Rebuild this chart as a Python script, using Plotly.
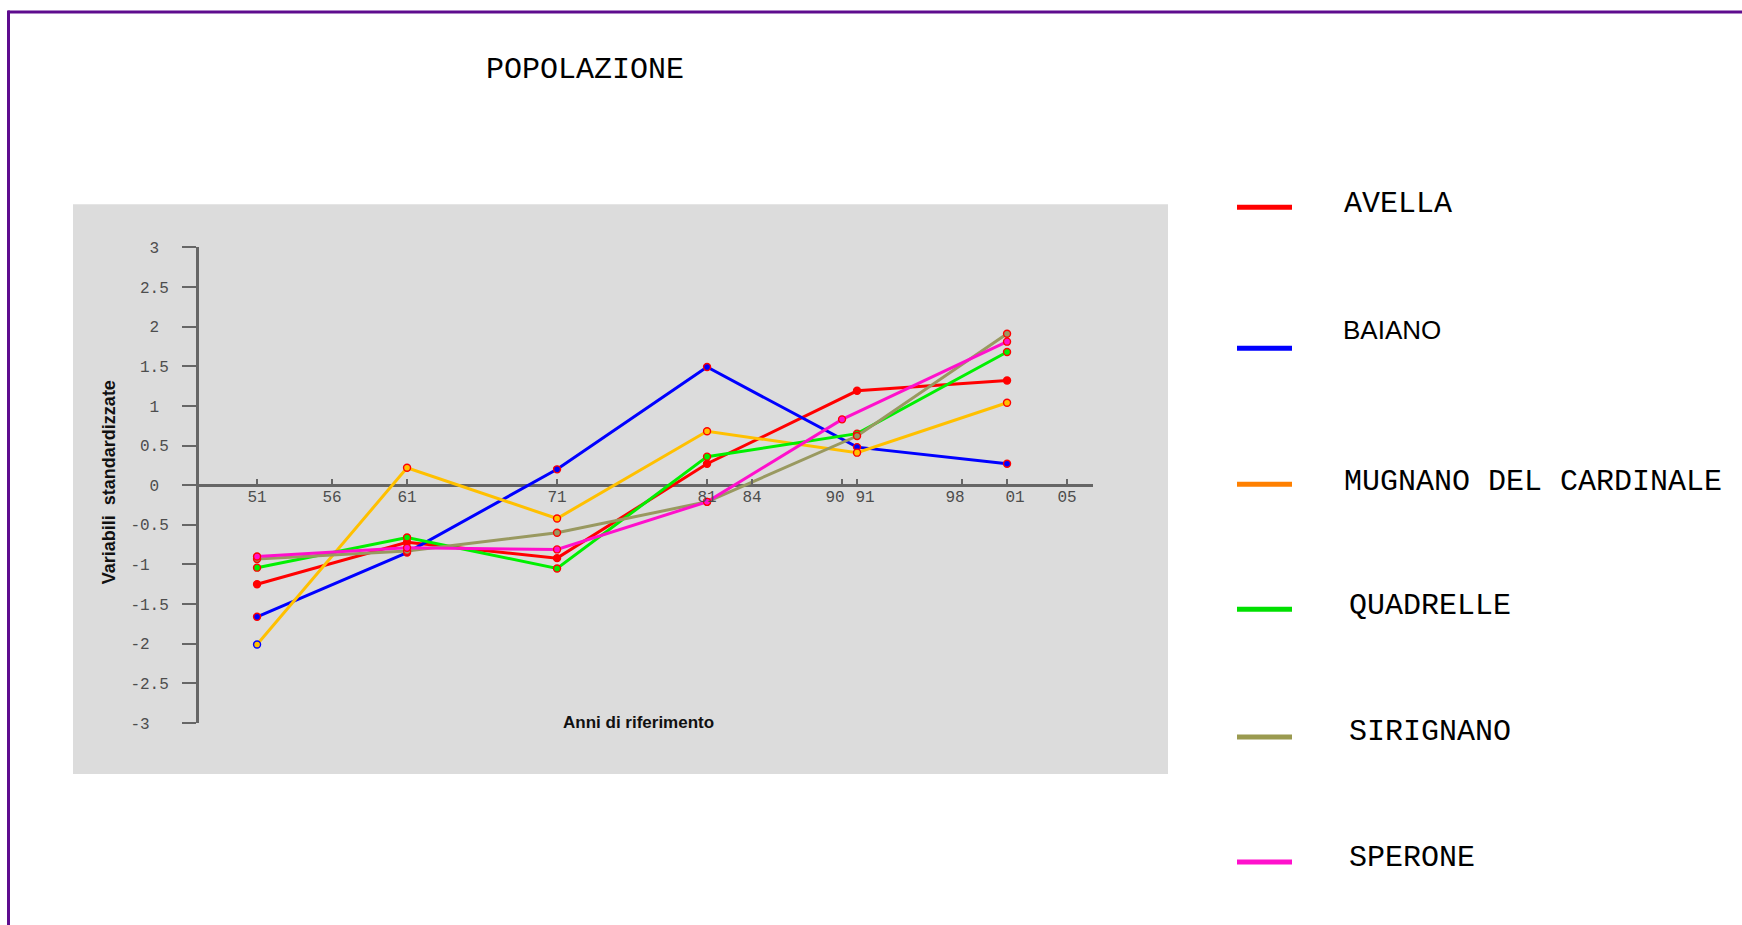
import plotly.graph_objects as go

# ---- data: standardised population values by census year ----
YEARS = [1951, 1961, 1971, 1981, 1991, 2001]
YEARS_SPERONE = [1951, 1961, 1971, 1981, 1990, 2001]

AVELLA = [-1.25, -0.72, -0.92, 0.27, 1.19, 1.32]
BAIANO = [-1.66, -0.85, 0.20, 1.49, 0.48, 0.27]
MUGNANO = [-2.01, 0.22, -0.42, 0.68, 0.41, 1.04]
QUADRELLE = [-1.04, -0.66, -1.05, 0.36, 0.65, 1.68]
SIRIGNANO = [-0.93, -0.83, -0.60, -0.21, 0.62, 1.91]
SPERONE = [-0.90, -0.79, -0.81, -0.21, 0.83, 1.81]

SERIES_NAMES = ["AVELLA", "BAIANO", "MUGNANO DEL CARDINALE",
                "QUADRELLE", "SIRIGNANO", "SPERONE"]

# x ticks: labels sitting on the tick, nudged left, nudged right
X_TICK_VALS = [1951, 1956, 1961, 1971, 1981, 1984, 1990, 1991, 1998, 2001, 2005]
X_TICK_TEXT = ["51", "56", "61", "71", "81", "84", "", "", "", "", "05"]
X_LEFT_VALS = [1990, 1998]
X_LEFT_TEXT = ["90", "98"]
X_RIGHT_VALS = [1991, 2001]
X_RIGHT_TEXT = ["91", "01"]
Y_TICK_VALS = [3, 2.5, 2, 1.5, 1, 0.5, 0, -0.5, -1, -1.5, -2, -2.5, -3]
Y_TICK_TEXT = ["3", "2.5", "2", "1.5", "1", "0.5", "0", "-0.5", "-1", "-1.5",
               "-2", "-2.5", "-3"]

# ---- styling ----
W, H = 1742, 925
LINE_COLORS = ["#FF0000", "#0000FF", "#FFC000", "#00F000", "#999960", "#FF10CC"]
KEY_COLORS = ["#FF0000", "#0000FF", "#FF8000", "#00E000", "#9A9A50", "#FF10CC"]
# the last two series sit on overlay x axes (same scale) that carry shifted labels
SERIES_XAXIS = ["x", "x", "x", "x", "x2", "x3"]
MONO = "Liberation Mono"
SANS = "Liberation Sans"
TICK_FONT = dict(family=MONO, size=16, color="#4D4D4D")
NB = "\u00a0"

# vertical placement: paper area starts TOP_OFF px down and is AREA_H px tall
TOP_OFF = 6.6
AREA_H = 907.4


def px(x):
    return x / W


def py(y):
    return 1 - (y - TOP_OFF) / AREA_H


def y_label(text):
    # whole numbers get trailing padding so labels line up on their left side
    if "." in text:
        return text
    return text + NB * (2 if text.startswith("-") else 1)


series = [
    (YEARS, AVELLA),
    (YEARS, BAIANO),
    (YEARS, MUGNANO),
    (YEARS, QUADRELLE),
    (YEARS, SIRIGNANO),
    (YEARS_SPERONE, SPERONE),
]

fig = go.Figure()
for (xs, ys), name, color, xa in zip(series, SERIES_NAMES, LINE_COLORS,
                                     SERIES_XAXIS):
    ring = ["#FF0000"] * len(xs)
    if name == "MUGNANO DEL CARDINALE":
        ring[0] = "#0000FF"
    fig.add_trace(go.Scatter(
        x=xs, y=ys, name=name, mode="lines+markers", xaxis=xa, yaxis="y",
        line=dict(color=color, width=3),
        marker=dict(symbol="circle", size=7, color=color,
                    line=dict(color=ring, width=1.4)),
        showlegend=False,
    ))

y_dom = [py(723), py(247)]
x_dom = [px(199), px(1093)]
x_range = [1947.13, 2006.73]
x_pos = (y_dom[0] + y_dom[1]) / 2

shapes = [
    # grey panel behind the plot
    dict(type="rect", xref="paper", yref="paper", layer="below",
         x0=px(73), x1=px(1168), y0=py(774), y1=py(204),
         fillcolor="#DCDCDC", line=dict(width=0)),
    # purple frame (top and left edges)
    dict(type="line", xref="paper", yref="paper",
         x0=px(8), x1=1, y0=py(11.5), y1=py(11.5),
         line=dict(color="#5E0C8E", width=3)),
    dict(type="line", xref="paper", yref="paper",
         x0=px(8.5), x1=px(8.5), y0=py(930), y1=py(10),
         line=dict(color="#5E0C8E", width=3)),
]

# hand-placed legend keys
KEY_LINE_Y = [207, 348, 484, 609, 737, 862]
KEY_TEXT_Y = [204, 330, 482, 606, 732, 858]
KEY_TEXT_X = [1342, 1341, 1342, 1347, 1347, 1347]
annotations = []
for i, name in enumerate(SERIES_NAMES):
    shapes.append(dict(type="line", xref="paper", yref="paper",
                       x0=px(1237), x1=px(1292),
                       y0=py(KEY_LINE_Y[i]), y1=py(KEY_LINE_Y[i]),
                       line=dict(color=KEY_COLORS[i], width=5)))
    if name == "BAIANO":
        font = dict(family=SANS, size=26, color="#000000")
    else:
        font = dict(family=MONO, size=30, color="#000000")
    annotations.append(dict(text=name, xref="paper", yref="paper",
                            x=px(KEY_TEXT_X[i]), y=py(KEY_TEXT_Y[i]),
                            xanchor="left", yanchor="middle",
                            showarrow=False, font=font))

annotations += [
    dict(text="POPOLAZIONE", xref="paper", yref="paper",
         x=px(585), y=py(70), xanchor="center", yanchor="middle",
         showarrow=False, font=dict(family=MONO, size=30, color="#000000")),
    dict(text="<b>Anni di riferimento</b>", xref="paper", yref="paper",
         x=px(638), y=py(722), xanchor="center", yanchor="middle",
         showarrow=False, font=dict(family=SANS, size=17, color="#111111")),
    dict(text="<b>Variabili  standardizzate</b>", xref="paper", yref="paper",
         x=px(109), y=py(482), xanchor="center", yanchor="middle",
         textangle=-90, showarrow=False,
         font=dict(family=SANS, size=18, color="#111111")),
]

axis_gray = "#666666"


def label_axis(vals, text, shift):
    # overlay axis with the same scale, carrying a few shifted tick labels
    return dict(
        domain=x_dom, range=x_range, overlaying="x",
        anchor="free", position=x_pos,
        showline=False, ticks="", showgrid=False, zeroline=False,
        tickvals=vals, ticktext=text, tickangle=0,
        ticklabelshift=shift, tickfont=TICK_FONT,
    )


fig.update_layout(
    width=W, height=H, autosize=False,
    margin=dict(l=0, r=0, t=0, b=0),
    paper_bgcolor="#FFFFFF", plot_bgcolor="rgba(0,0,0,0)",
    shapes=shapes, annotations=annotations,
    xaxis=dict(
        domain=x_dom, range=x_range,
        anchor="free", position=x_pos,
        showline=False,
        ticks="inside", ticklen=6, tickwidth=1.5, tickcolor=axis_gray,
        tickvals=X_TICK_VALS, ticktext=X_TICK_TEXT, tickangle=0,
        tickfont=TICK_FONT,
        showgrid=False, zeroline=False,
    ),
    xaxis2=label_axis(X_LEFT_VALS, X_LEFT_TEXT, -7),
    xaxis3=label_axis(X_RIGHT_VALS, X_RIGHT_TEXT, 8),
    yaxis=dict(
        domain=y_dom, range=[-3, 3], anchor="x",
        showline=True, linecolor=axis_gray, linewidth=3,
        ticks="outside", ticklen=14, tickwidth=1.5, tickcolor=axis_gray,
        tickvals=Y_TICK_VALS, ticktext=[y_label(t) for t in Y_TICK_TEXT],
        tickfont=TICK_FONT,
        ticklabelstandoff=10,
        showgrid=False,
        # the horizontal axis line runs along y = 0
        zeroline=True, zerolinecolor=axis_gray, zerolinewidth=3,
    ),
)

fig.write_html("out.html")
